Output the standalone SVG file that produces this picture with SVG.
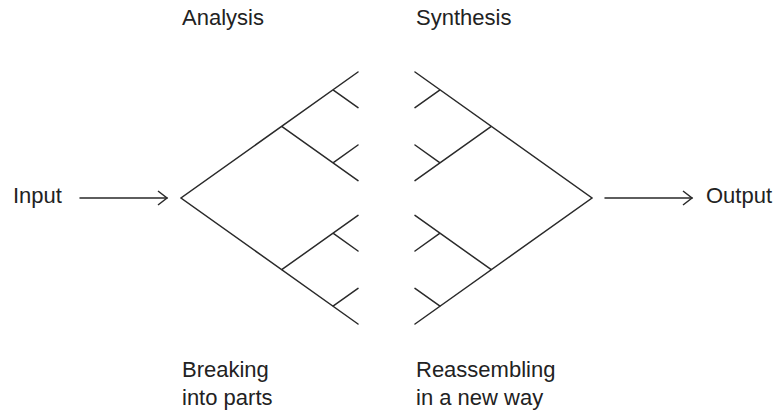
<svg xmlns="http://www.w3.org/2000/svg" width="781" height="412" viewBox="0 0 781 412">
<style>
.t{font-family:"Liberation Sans",Arial,sans-serif;font-size:22px;fill:#222}
.ln{fill:none;stroke:#2a2a2a;stroke-width:1.5;stroke-linecap:round;stroke-linejoin:miter}
</style>
<defs>
<marker id="ah" markerWidth="12" markerHeight="18" refX="10" refY="8" orient="auto" markerUnits="userSpaceOnUse">
<path d="M1,1 L10,8 L1,15" fill="none" stroke="#2a2a2a" stroke-width="1.5"/>
</marker>
</defs>
<rect width="781" height="412" fill="#fff"/>
<g id="input"><text class="t" x="13" y="203">Input</text></g>
<g id="output"><text class="t" x="706" y="203">Output</text></g>
<g id="analysis">
<text class="t" x="182" y="25">Analysis</text>
<path class="ln" d="M358,72 L181,198 L358,324 M281.7,126.3 L358,180.6 M281.7,269.7 L358,215.4 M333,89.8 L358,107.6 M333,162.8 L358,145 M333,233.2 L358,251 M333,306.2 L358,288.4"/>
<text class="t" x="182" y="377">Breaking</text>
<text class="t" x="182" y="405">into parts</text>
</g>
<g id="synthesis">
<text class="t" x="416" y="25">Synthesis</text>
<path class="ln" d="M415,72 L592,198 L415,324 M491.3,126.3 L415,180.6 M491.3,269.7 L415,215.4 M440,89.8 L415,107.6 M440,162.8 L415,145 M440,233.2 L415,251 M440,306.2 L415,288.4"/>
<text class="t" x="416" y="377">Reassembling</text>
<text class="t" x="416" y="405">in a new way</text>
</g>
<g id="connectors">
<line class="ln" x1="80" y1="198" x2="167" y2="198" marker-end="url(#ah)"/>
<line class="ln" x1="605" y1="198" x2="692" y2="198" marker-end="url(#ah)"/>
</g>
</svg>
